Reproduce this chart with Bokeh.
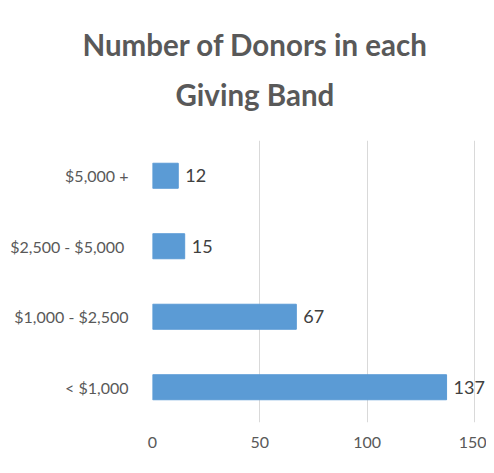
from bokeh.plotting import figure
from bokeh.models import ColumnDataSource, Title, Range1d, FactorRange
from bokeh.core.properties import value
from bokeh.embed import file_html
from bokeh.resources import INLINE

bands = ["< $1,000", "$1,000 - $2,500", "$2,500  - $5,000", "$5,000 +"]
donors = [137, 67, 15, 12]
x_ticks = [0, 50, 100, 150]
title_lines = ["Number of Donors in each", "Giving Band"]

FONT = "Lato"
GRAY = "#595959"

src = ColumnDataSource(dict(band=bands, n=donors, lbl=[str(v) for v in donors]))

p = figure(width=486, height=465, y_range=FactorRange(*bands, range_padding=0),
           x_range=Range1d(0, 155.6), output_backend="svg", toolbar_location=None,
           min_border_left=152, min_border_right=0, min_border_bottom=43, min_border_top=140)
p.title = None
# spacer between the frame and the title
p.add_layout(Title(text=" ", text_font_size="1px", standoff=19), "above")
p.add_layout(Title(text=title_lines[1], align="left", offset=23, text_font=FONT,
                   text_font_size="29.5px", text_color=GRAY, text_font_style="bold",
                   standoff=12.6), "above")
p.add_layout(Title(text=title_lines[0], align="left", offset=-70, text_font=FONT,
                   text_font_size="29.5px", text_color=GRAY, text_font_style="bold",
                   standoff=12.6), "above")

p.hbar(y="band", right="n", left=0, height=0.355, source=src, color="#5B9BD5")
p.text(x="n", y="band", text="lbl", source=src, x_offset=7, text_baseline="middle",
       text_align="left", text_font=value(FONT), text_font_size="18px", text_color="#404040")

p.outline_line_color = None
p.ygrid.grid_line_color = None
p.xgrid.grid_line_color = "#d9d9d9"
p.xgrid.ticker = x_ticks
p.xaxis.ticker = x_ticks
for ax in (p.xaxis, p.yaxis):
    ax.axis_line_color = None
    ax.major_tick_line_color = None
    ax.minor_tick_line_color = None
    ax.major_label_text_font = FONT
    ax.major_label_text_font_size = "16px"
    ax.major_label_text_color = GRAY
p.yaxis.major_label_standoff = 18
p.xaxis.major_label_standoff = 8

open("out.html", "w").write(file_html(p, INLINE))
